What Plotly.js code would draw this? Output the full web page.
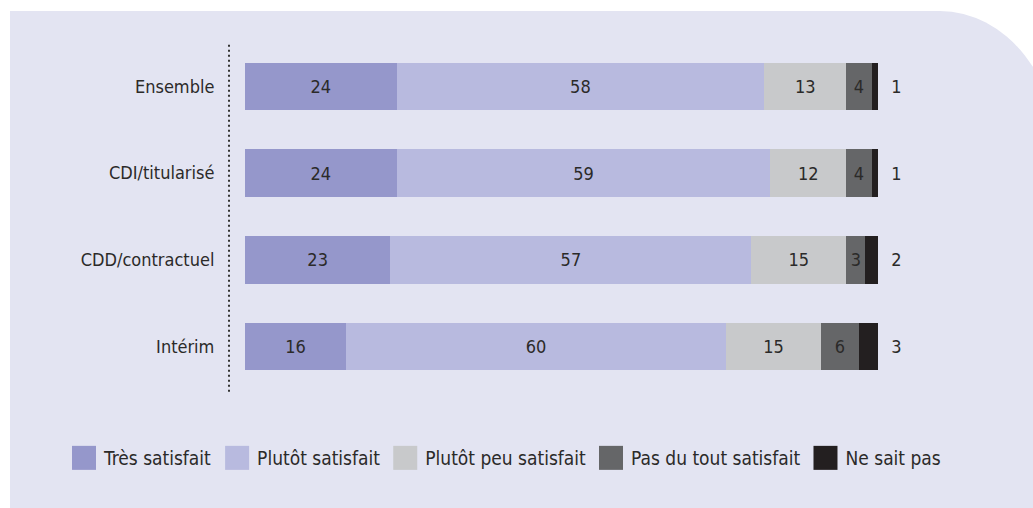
<!DOCTYPE html>
<html>
<head>
<meta charset="utf-8">
<script src="https://cdn.plot.ly/plotly-3.0.1.min.js"></script>
<style>
  html, body { margin:0; padding:0; width:1033px; height:508px; overflow:hidden; background:#ffffff; }
  #panel { position:absolute; left:10px; top:11px; width:1050px; height:520px; background:#e3e4f2;
           border-top-right-radius:120px 152px; }
  #chart { position:absolute; left:0; top:0; width:1033px; height:508px; }
  .legend .legendpoints path { transform: translate(20px, 0px) scale(2); }
</style>
</head>
<body>
<div id="panel"></div>
<div id="chart"></div>
<script>
const categories = ["Ensemble", "CDI/titularisé", "CDD/contractuel", "Intérim"];
const seriesNames = ["Très satisfait", "Plutôt satisfait", "Plutôt peu satisfait", "Pas du tout satisfait", "Ne sait pas"];
const tresSatisfait = [24, 24, 23, 16];
const plutotSatisfait = [58, 59, 57, 60];
const plutotPeuSatisfait = [13, 12, 15, 15];
const pasDuToutSatisfait = [4, 4, 3, 6];
const neSaitPas = [1, 1, 2, 3];
const colors = ["#9597cb", "#b8badf", "#c8c9cb", "#656668", "#231f20"];

const FONT = "DejaVu Sans Condensed, Liberation Sans Narrow, Open Sans, sans-serif";
const TXT = "#2b2a29";
const values = [tresSatisfait, plutotSatisfait, plutotPeuSatisfait, pasDuToutSatisfait, neSaitPas];

const traces = values.map((v, i) => {
  const last = i === values.length - 1;
  return {
    type: "bar",
    orientation: "h",
    name: seriesNames[i],
    y: categories,
    x: v,
    marker: { color: colors[i], line: { width: 0 } },
    text: v.map(String),
    texttemplate: last ? "\u00a0\u00a0%{x}" : "%{x}",
    textposition: last ? "outside" : "inside",
    insidetextanchor: "middle",
    constraintext: "none",
    cliponaxis: false,
    textfont: { family: FONT, size: 18, color: TXT },
    insidetextfont: { family: FONT, size: 18, color: TXT },
    outsidetextfont: { family: FONT, size: 18, color: TXT },
    hoverinfo: "name+x+y"
  };
});

const layout = {
  width: 1033,
  height: 508,
  margin: { l: 229, r: 155, t: 43, b: 118, pad: 0 },
  paper_bgcolor: "rgba(0,0,0,0)",
  plot_bgcolor: "rgba(0,0,0,0)",
  barmode: "stack",
  bargap: 0.45,
  showlegend: true,
  font: { family: FONT, size: 18, color: TXT },
  xaxis: {
    range: [-2.5, 100],
    visible: false,
    fixedrange: true
  },
  yaxis: {
    autorange: "reversed",
    showgrid: false,
    zeroline: false,
    showline: false,
    ticks: "outside",
    ticklen: 10,
    tickcolor: "rgba(0,0,0,0)",
    tickfont: { family: FONT, size: 18, color: TXT },
    fixedrange: true
  },
  legend: {
    orientation: "h",
    x: -0.2542,
    xanchor: "left",
    y: -0.196,
    yanchor: "middle",
    traceorder: "normal",
    itemwidth: 30,
    font: { family: FONT, size: 19, color: TXT },
    bgcolor: "rgba(0,0,0,0)",
    itemclick: false,
    itemdoubleclick: false
  },
  shapes: [{
    type: "line",
    xref: "paper", yref: "paper",
    x0: 0, x1: 0, y0: -0.005, y1: 1.003,
    line: { color: "#333333", width: 2, dash: "2px,3px" }
  }]
};

Plotly.newPlot("chart", traces, layout, { staticPlot: true, displayModeBar: false });
</script>
</body>
</html>
